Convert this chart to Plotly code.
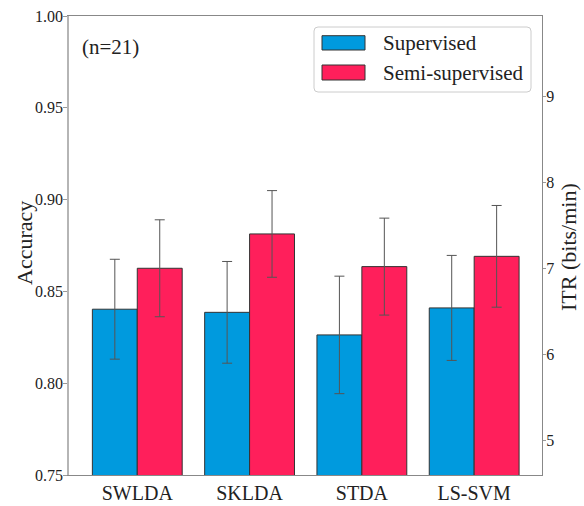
import plotly.graph_objects as go

categories = ["SWLDA", "SKLDA", "STDA", "LS-SVM"]
series_names = ["Supervised", "Semi-supervised"]
sup_acc = [0.8403, 0.8386, 0.8263, 0.8410]
sup_err = [0.0272, 0.0277, 0.0320, 0.0286]
semi_acc = [0.8626, 0.8813, 0.8635, 0.8691]
semi_err = [0.0264, 0.0236, 0.0264, 0.0277]
acc_ticks = [0.75, 0.80, 0.85, 0.90, 0.95, 1.00]
itr_ticks = [5, 6, 7, 8, 9]
left_title = "Accuracy"
right_title = "ITR (bits/min)"
annotation_text = "(n=21)"

colors = ["#009ADE", "#FF1F5B"]
FONT = "Liberation Serif, Times New Roman, serif"

fig = go.Figure()
for name, vals, errs, col in [
    (series_names[0], sup_acc, sup_err, colors[0]),
    (series_names[1], semi_acc, semi_err, colors[1]),
]:
    fig.add_trace(go.Bar(
        x=categories, y=vals, name=name,
        marker=dict(color=col, line=dict(color="#333333", width=1)),
        error_y=dict(type="data", array=errs, visible=True,
                     color="#555555", thickness=1, width=5),
        showlegend=False,
    ))

# invisible trace to register the right axis
fig.add_trace(go.Scatter(x=[categories[0]], y=[None], yaxis="y2",
                         showlegend=False, hoverinfo="skip"))

fig.update_layout(
    width=584, height=506,
    margin=dict(l=69, r=42, t=16, b=31, autoexpand=False),
    paper_bgcolor="white", plot_bgcolor="white",
    font=dict(family=FONT, color="#222222"),
    barmode="group", bargap=0.2, bargroupgap=0,
    xaxis=dict(
        range=[-0.608, 3.604], showline=True, linecolor="#888888", linewidth=1.2,
        mirror=True, ticks="", tickfont=dict(size=20, family=FONT, color="#222"),
        showgrid=False, zeroline=False,
    ),
    yaxis=dict(
        range=[0.75, 1.0], tickvals=acc_ticks, ticktext=[f"{v:.2f}" for v in acc_ticks],
        showline=True, linecolor="#b5b5b5", linewidth=1.5,
        ticks="outside", ticklen=4, tickcolor="#999999", ticklabelstandoff=-3,
        tickfont=dict(size=16, family=FONT, color="#222"),
        showgrid=False, zeroline=False,
    ),
    yaxis2=dict(
        overlaying="y", side="right", range=[4.593, 9.938], tickvals=itr_ticks,
        showline=True, linecolor="#888888", linewidth=1.2,
        ticks="outside", ticklen=3, tickcolor="#999999", ticklabelstandoff=-3,
        tickfont=dict(size=16, family=FONT, color="#222"),
        showgrid=False, zeroline=False,
    ),
)

W, H = 473.0, 459.0
def px(x):
    return (x - 69) / W
def py(y):
    return (475 - y) / H

# axis titles
fig.add_annotation(x=px(24), y=py(243), xref="paper", yref="paper", text=left_title,
                   textangle=-90, showarrow=False, xanchor="center", yanchor="middle",
                   font=dict(size=22, family=FONT, color="#222"))
fig.add_annotation(x=px(568), y=py(247), xref="paper", yref="paper", text=right_title,
                   textangle=-90, showarrow=False, xanchor="center", yanchor="middle",
                   font=dict(size=22, family=FONT, color="#222"))

# manual legend (matplotlib style)
x0, x1, y0, y1 = px(314), px(531), py(27), py(92)
rx, ry = 4 / W, 4 / H
path = (f"M {x0+rx},{y0} L {x1-rx},{y0} Q {x1},{y0} {x1},{y0-ry} "
        f"L {x1},{y1+ry} Q {x1},{y1} {x1-rx},{y1} L {x0+rx},{y1} "
        f"Q {x0},{y1} {x0},{y1+ry} L {x0},{y0-ry} Q {x0},{y0} {x0+rx},{y0} Z")
fig.add_shape(type="path", path=path, xref="paper", yref="paper",
              line=dict(color="#cccccc", width=1), fillcolor="rgba(255,255,255,0.8)")
rows = [(35.7, 50), (65, 80)]
for (ta, tb), name, col in zip(rows, series_names, colors):
    fig.add_shape(type="rect", xref="paper", yref="paper",
                  x0=px(322), x1=px(365), y0=py(ta), y1=py(tb),
                  line=dict(color="#333333", width=1), fillcolor=col)
    fig.add_annotation(x=px(381), y=py((ta + tb) / 2), xref="paper", yref="paper",
                       text=name, showarrow=False, xanchor="left", yanchor="middle",
                       font=dict(size=21, family=FONT, color="#222"))

fig.add_annotation(x=px(80), y=py(47), xref="paper", yref="paper", text=annotation_text,
                   showarrow=False, xanchor="left", yanchor="middle",
                   font=dict(size=21, family=FONT, color="#222"))

fig.write_html(
    "out.html",
    config={"displayModeBar": False},
    post_script="document.body.style.margin='0';document.body.style.padding='0';",
)
